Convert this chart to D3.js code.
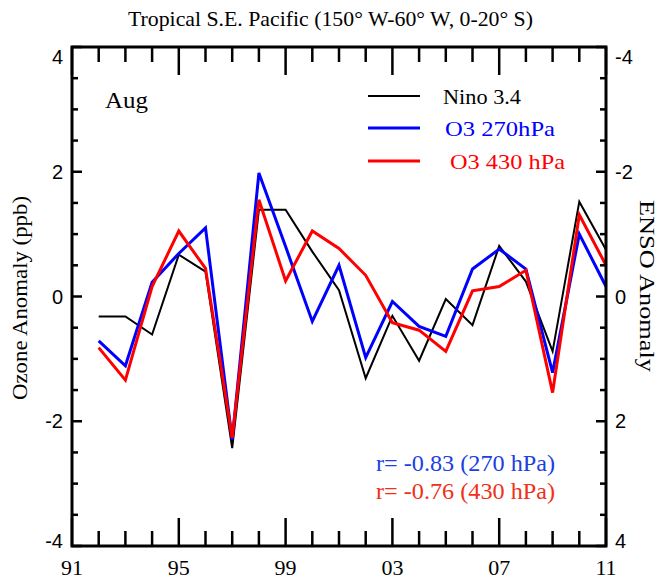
<!DOCTYPE html>
<html>
<head>
<meta charset="utf-8">
<script src="https://cdn.jsdelivr.net/npm/d3@7"></script>
<style>
  body { margin: 0; background: #fff; }
  svg text { font-family: "Liberation Serif", "Times New Roman", serif; }
  .num { font-family: "Liberation Sans", Arial, sans-serif; }
</style>
</head>
<body>
<svg id="chart" width="664" height="582"></svg>
<script>
// Years on the x axis (1992-2011)
const years = d3.range(1992, 2012);

// Nino 3.4 index (ENSO units, plotted on the reversed right axis)
const nino34 = [0.32, 0.32, 0.61, -0.67, -0.40, 2.43, -1.39, -1.39, -0.72, -0.10,
                1.31, 0.31, 1.03, 0.04, 0.46, -0.81, -0.24, 0.88, -1.52, -0.75];

// Ozone anomalies (ppb)
const o3_270 = [-0.71, -1.11, 0.23, 0.69, 1.10, -2.30, 1.98, 0.80, -0.40, 0.50,
                -0.98, -0.08, -0.48, -0.64, 0.44, 0.76, 0.44, -1.22, 1.00, 0.16];
const o3_430 = [-0.82, -1.34, 0.16, 1.05, 0.45, -2.27, 1.55, 0.25, 1.05, 0.77,
                0.34, -0.42, -0.54, -0.88, 0.09, 0.16, 0.42, -1.54, 1.31, 0.50];

const xTickYears = [1991, 1995, 1999, 2003, 2007, 2011];
const leftTicks = [-4, -2, 0, 2, 4];
const rightTicks = [-4, -2, 0, 2, 4];

/*
** LAYOUT
*/
const svg = d3.select("#chart");
const mLeft = 72, mRight = 606, mTop = 47, mBottom = 546;

const x = d3.scaleLinear().domain([1991, 2011]).range([mLeft, mRight]);
const yL = d3.scaleLinear().domain([-4, 4]).range([mBottom, mTop]);
const yR = d3.scaleLinear().domain([-4, 4]).range([mTop, mBottom]); // reversed ENSO axis

// helper: text stretched to the width measured on the figure
function label(px, py, str, size, len, color) {
  let t = svg.append("text")
    .attr("x", px).attr("y", py)
    .style("font-size", size + "px")
    .attr("fill", color || "#000")
    .text(str);
  if (len) t.attr("textLength", len).attr("lengthAdjust", "spacingAndGlyphs");
  return t;
}

// Title
label(128, 26, "Tropical S.E. Pacific (150° W-60° W, 0-20° S)", 22, 405);

// Series lines
const line = (scale, vals) => d3.line()
  .x((d, i) => x(years[i]))
  .y(d => scale(d))(vals);

svg.append("path").attr("d", line(yR, nino34))
  .attr("fill", "none").attr("stroke", "#000").attr("stroke-width", 2);
svg.append("path").attr("d", line(yL, o3_270))
  .attr("fill", "none").attr("stroke", "#0000ff").attr("stroke-width", 3);
svg.append("path").attr("d", line(yL, o3_430))
  .attr("fill", "none").attr("stroke", "#ff0000").attr("stroke-width", 3);

/*
** AXES (ticks pointing inward)
*/
const frame = svg.append("g");
frame.append("rect")
  .attr("x", mLeft).attr("y", mTop)
  .attr("width", mRight - mLeft).attr("height", mBottom - mTop)
  .attr("fill", "none").attr("stroke", "#000").attr("stroke-width", 3);

// x ticks: every year minor, every 4 years major
d3.range(1991, 2012).forEach(yr => {
  let len = xTickYears.includes(yr) ? 28 : 15;
  frame.append("line").attr("x1", x(yr)).attr("x2", x(yr))
    .attr("y1", mBottom).attr("y2", mBottom - len).attr("stroke", "#000").attr("stroke-width", 2.5);
  frame.append("line").attr("x1", x(yr)).attr("x2", x(yr))
    .attr("y1", mTop).attr("y2", mTop + len).attr("stroke", "#000").attr("stroke-width", 2.5);
});
xTickYears.forEach(yr => {
  svg.append("text")
    .attr("x", x(yr)).attr("y", 575)
    .attr("text-anchor", "middle")
    .style("font-size", "22px")
    .text(String(yr % 100).padStart(2, "0"));
});

// y ticks every 0.5, longer on even values
d3.range(-4, 4.01, 0.5).forEach(v => {
  let len = (v % 2 === 0) ? 10 : 6;
  frame.append("line").attr("x1", mLeft).attr("x2", mLeft + len)
    .attr("y1", yL(v)).attr("y2", yL(v)).attr("stroke", "#000").attr("stroke-width", 2.5);
  frame.append("line").attr("x1", mRight).attr("x2", mRight - len)
    .attr("y1", yL(v)).attr("y2", yL(v)).attr("stroke", "#000").attr("stroke-width", 2.5);
});
// end labels sit just inside the frame corners
const nudge = v => v === 4 ? 10 : (v === -4 ? -5 : 0);
leftTicks.forEach(v => {
  svg.append("text").attr("class", "num")
    .attr("x", mLeft - 9).attr("y", yL(v) + 7 + nudge(v))
    .attr("text-anchor", "end")
    .style("font-size", "20px")
    .text(v);
});
rightTicks.forEach(v => {
  svg.append("text").attr("class", "num")
    .attr("x", mRight + 9).attr("y", yR(v) + 7 + nudge(-v))
    .attr("text-anchor", "start")
    .style("font-size", "20px")
    .text(v);
});

// Axis titles
svg.append("text")
  .attr("transform", "translate(27,298) rotate(-90)")
  .attr("x", -102)
  .style("font-size", "22px")
  .attr("textLength", 204).attr("lengthAdjust", "spacingAndGlyphs")
  .text("Ozone Anomaly (ppb)");
svg.append("text")
  .attr("transform", "translate(640,286) rotate(90)")
  .attr("x", -86)
  .style("font-size", "21px")
  .attr("textLength", 172).attr("lengthAdjust", "spacingAndGlyphs")
  .text("ENSO Anomaly");

/*
** LEGEND AND ANNOTATIONS
*/
label(105, 108, "Aug", 23, 43);

const legend = [
  { label: "Nino 3.4", color: "#000", width: 2, y: 96, tx: 443, len: 78 },
  { label: "O3 270hPa", color: "#0000ff", width: 3, y: 128, tx: 445, len: 110 },
  { label: "O3 430 hPa", color: "#ff0000", width: 3, y: 161, tx: 450, len: 115 }
];
legend.forEach(l => {
  svg.append("line").attr("x1", 368).attr("x2", 420)
    .attr("y1", l.y).attr("y2", l.y)
    .attr("stroke", l.color).attr("stroke-width", l.width);
  label(l.tx, l.y + 8, l.label, 22, l.len, l.color);
});

label(376, 471, "r= -0.83 (270 hPa)", 23, 179, "#2040e0");
label(376, 499, "r= -0.76 (430 hPa)", 23, 179, "#f03018");
</script>
</body>
</html>
